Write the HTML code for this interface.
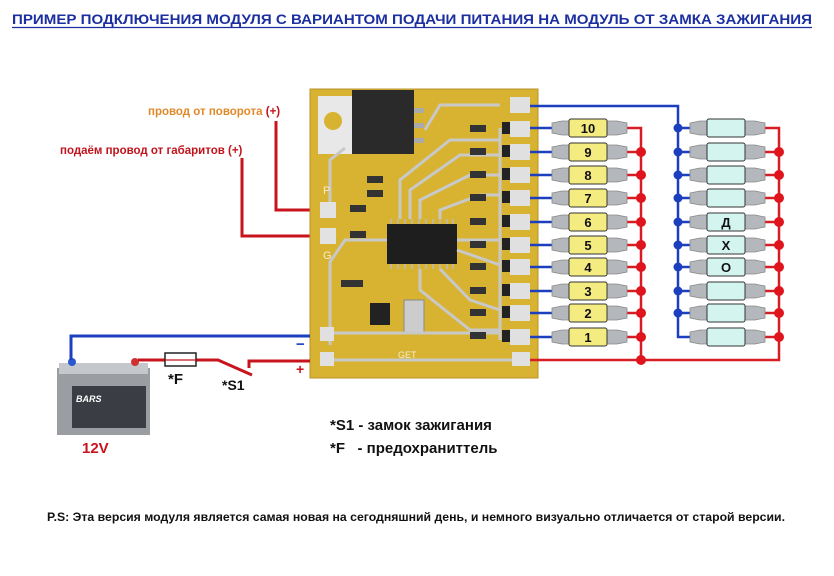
<!DOCTYPE html>
<html><head><meta charset="utf-8"><style>
body{margin:0;background:#fff}
svg{display:block;font-family:"Liberation Sans","DejaVu Sans",sans-serif}
</style></head><body>
<svg width="834" height="576" viewBox="0 0 834 576" xmlns="http://www.w3.org/2000/svg">
<rect width="834" height="576" fill="#fff"/>
<text x="12" y="24" font-size="13.5" font-weight="bold" fill="#1b2fa0" textLength="800" lengthAdjust="spacingAndGlyphs">ПРИМЕР ПОДКЛЮЧЕНИЯ МОДУЛЯ С ВАРИАНТОМ ПОДАЧИ ПИТАНИЯ НА МОДУЛЬ ОТ ЗАМКА ЗАЖИГАНИЯ</text>
<line x1="12" y1="27.5" x2="812" y2="27.5" stroke="#1b2fa0" stroke-width="1.2"/>

<text x="148" y="115" font-size="11.5" font-weight="bold" fill="#e0892a">провод от поворота <tspan fill="#c0141c">(+)</tspan></text>
<text x="60" y="154" font-size="11.5" font-weight="bold" fill="#c0141c">подаём провод от габаритов (+)</text>
<g fill="none" stroke="#c8141c" stroke-width="3">
<polyline points="276,121 276,210 325,210"/>
<polyline points="242,158 242,236 325,236"/>
</g>

<!-- PCB -->
<rect x="310" y="89" width="228" height="289" fill="#d8b332" stroke="#b8922a" stroke-width="1"/>
<rect x="318" y="96" width="44" height="58" fill="#e8e8e8"/>
<circle cx="333" cy="121" r="9" fill="#d8b332"/>
<rect x="352" y="90" width="62" height="64" fill="#2a2a2a"/>
<rect x="414" y="108" width="10" height="5" fill="#aaa"/><rect x="414" y="123" width="10" height="5" fill="#aaa"/><rect x="414" y="138" width="10" height="5" fill="#aaa"/>
<rect x="387" y="224" width="70" height="40" fill="#1e1e1e"/>
<g stroke="#bbb" stroke-width="1.5">
<path d="M391 219v5M398 219v5M405 219v5M412 219v5M419 219v5M426 219v5M433 219v5M440 219v5M447 219v5M453 219v5M391 264v5M398 264v5M405 264v5M412 264v5M419 264v5M426 264v5M433 264v5M440 264v5M447 264v5M453 264v5"/>
</g>
<rect x="404" y="300" width="20" height="32" fill="#ccc" stroke="#888"/>
<rect x="370" y="303" width="20" height="22" fill="#222"/>
<g fill="none" stroke="#c8c8c8" stroke-width="3">
<polyline points="330,210 330,160 345,148"/>
<polyline points="320,333 500,333"/><polyline points="320,360 530,360"/>
<polyline points="330,345 330,262 345,240 387,240"/>
<polyline points="500,105 440,105 425,130"/>
<polyline points="500,128 500,340"/>
<path d="M400 219 L400 180 L450 140 L500 140 M410 219 L410 190 L460 155 L500 155 M420 219 L420 200 L470 175 L500 175 M440 219 L440 210 L480 195 L500 195 M457 240 L500 240 M457 250 L500 265 M440 269 L470 300 L500 310 M420 269 L420 290 L470 330 L500 330"/>
</g>
<rect x="320" y="202" width="16" height="16" fill="#e2e2e2"/>
<rect x="320" y="228" width="16" height="16" fill="#e2e2e2"/>
<text x="323" y="194" font-size="11" fill="#f4ecd0">P</text>
<text x="323" y="259" font-size="11" fill="#f4ecd0">G</text>
<text x="398" y="358" font-size="9" fill="#f4ecd0">GET</text>
<g fill="#e0e0e0">
<rect x="510" y="97" width="20" height="16"/>
<rect x="510" y="121" width="20" height="16"/><rect x="510" y="144" width="20" height="16"/><rect x="510" y="167" width="20" height="16"/><rect x="510" y="190" width="20" height="16"/><rect x="510" y="214" width="20" height="16"/><rect x="510" y="237" width="20" height="16"/><rect x="510" y="259" width="20" height="16"/><rect x="510" y="283" width="20" height="16"/><rect x="510" y="305" width="20" height="16"/><rect x="510" y="329" width="20" height="16"/>
<rect x="320" y="327" width="14" height="14"/><rect x="320" y="352" width="14" height="14"/><rect x="512" y="352" width="18" height="14"/>
</g>
<g fill="#222">
<rect x="502" y="122" width="8" height="12"/><rect x="502" y="145" width="8" height="12"/><rect x="502" y="168" width="8" height="12"/><rect x="502" y="191" width="8" height="12"/><rect x="502" y="215" width="8" height="12"/><rect x="502" y="238" width="8" height="12"/><rect x="502" y="260" width="8" height="12"/><rect x="502" y="284" width="8" height="12"/><rect x="502" y="306" width="8" height="12"/><rect x="502" y="330" width="8" height="12"/>
</g>
<g fill="#333">
<rect x="470" y="125" width="16" height="7"/><rect x="470" y="148" width="16" height="7"/><rect x="470" y="171" width="16" height="7"/><rect x="470" y="194" width="16" height="7"/><rect x="470" y="218" width="16" height="7"/><rect x="470" y="241" width="16" height="7"/><rect x="470" y="263" width="16" height="7"/><rect x="470" y="287" width="16" height="7"/><rect x="470" y="309" width="16" height="7"/><rect x="470" y="332" width="16" height="7"/>
<rect x="367" y="176" width="16" height="7"/><rect x="367" y="190" width="16" height="7"/><rect x="350" y="205" width="16" height="7"/><rect x="350" y="231" width="16" height="7"/><rect x="341" y="280" width="22" height="7"/>
</g>

<!-- battery -->
<rect x="57" y="368" width="93" height="67" fill="#9a9ea2"/>
<rect x="59" y="363" width="89" height="11" fill="#c4c8cc"/>
<rect x="72" y="386" width="74" height="42" fill="#3a3e44"/>
<text x="76" y="402" font-size="9" font-style="italic" font-weight="bold" fill="#fff">BARS</text>
<ellipse cx="72" cy="362" rx="4" ry="4" fill="#2a58d0"/>
<ellipse cx="135" cy="362" rx="4" ry="4" fill="#d03030"/>
<text x="82" y="453" font-size="15" font-weight="bold" fill="#c8141c">12V</text>

<!-- battery wires -->
<polyline points="71,360 71,336 310,336" fill="none" stroke="#1c3fc0" stroke-width="3"/>
<polyline points="138,360 165,360" fill="none" stroke="#c8141c" stroke-width="3"/>
<polyline points="196,360 218,360 252,375" fill="none" stroke="#c8141c" stroke-width="3"/>
<polyline points="249,368 249,361 310,361" fill="none" stroke="#c8141c" stroke-width="3"/>
<rect x="165" y="353" width="31" height="13" fill="#fff" stroke="#222" stroke-width="1.5"/>
<line x1="165" y1="360" x2="196" y2="360" stroke="#c8141c" stroke-width="1.2"/>
<text x="296" y="349" font-size="15" font-weight="bold" fill="#1c3fc0">−</text>
<text x="296" y="374" font-size="14" font-weight="bold" fill="#c8141c">+</text>
<text x="168" y="384" font-size="15" font-weight="bold" fill="#111">*F</text>
<text x="222" y="390" font-size="14" font-weight="bold" fill="#111">*S1</text>

<!-- LEDs wiring -->
<g fill="none" stroke="#1c3fc0" stroke-width="2.5">
<polyline points="530,106 678,106 678,337 690,337"/>
<path d="M530 128H555M530 152H555M530 175H555M530 198H555M530 222H555M530 245H555M530 267H555M530 291H555M530 313H555M530 337H555"/>
<path d="M678 128H690M678 152H690M678 175H690M678 198H690M678 222H690M678 245H690M678 267H690M678 291H690M678 313H690"/>
</g>
<g fill="none" stroke="#d81c24" stroke-width="2.5">
<polyline points="627,128 641,128 641,360"/>
<polyline points="530,360 779,360 779,128 765,128"/>
<path d="M627 152H641M627 175H641M627 198H641M627 222H641M627 245H641M627 267H641M627 291H641M627 313H641M627 337H641"/>
<path d="M765 152H779M765 175H779M765 198H779M765 222H779M765 245H779M765 267H779M765 291H779M765 313H779M765 337H779"/>
</g>
<g fill="#e0141c">
<circle cx="641" cy="152" r="5"/><circle cx="641" cy="175" r="5"/><circle cx="641" cy="198" r="5"/><circle cx="641" cy="222" r="5"/><circle cx="641" cy="245" r="5"/><circle cx="641" cy="267" r="5"/><circle cx="641" cy="291" r="5"/><circle cx="641" cy="313" r="5"/><circle cx="641" cy="337" r="5"/><circle cx="641" cy="360" r="5"/>
<circle cx="779" cy="152" r="5"/><circle cx="779" cy="175" r="5"/><circle cx="779" cy="198" r="5"/><circle cx="779" cy="222" r="5"/><circle cx="779" cy="245" r="5"/><circle cx="779" cy="267" r="5"/><circle cx="779" cy="291" r="5"/><circle cx="779" cy="313" r="5"/><circle cx="779" cy="337" r="5"/>
</g>
<g fill="#1c3fc0">
<circle cx="678" cy="128" r="4.5"/><circle cx="678" cy="152" r="4.5"/><circle cx="678" cy="175" r="4.5"/><circle cx="678" cy="198" r="4.5"/><circle cx="678" cy="222" r="4.5"/><circle cx="678" cy="245" r="4.5"/><circle cx="678" cy="267" r="4.5"/><circle cx="678" cy="291" r="4.5"/><circle cx="678" cy="313" r="4.5"/>
</g>
<defs>
<g id="led">
<path d="M0 -5 L10 -7 H65 L75 -5 V5 L65 7 H10 L0 5Z" fill="#b4b8bc" stroke="#888" stroke-width="0.8"/>
</g>
</defs>
<g font-size="13" font-weight="bold" fill="#111" text-anchor="middle">
<g transform="translate(552,128)"><use href="#led"/><rect x="17" y="-9" width="38" height="18" rx="2" fill="#f4ec80" stroke="#333"/><text x="36" y="5">10</text></g>
<g transform="translate(552,152)"><use href="#led"/><rect x="17" y="-9" width="38" height="18" rx="2" fill="#f4ec80" stroke="#333"/><text x="36" y="5">9</text></g>
<g transform="translate(552,175)"><use href="#led"/><rect x="17" y="-9" width="38" height="18" rx="2" fill="#f4ec80" stroke="#333"/><text x="36" y="5">8</text></g>
<g transform="translate(552,198)"><use href="#led"/><rect x="17" y="-9" width="38" height="18" rx="2" fill="#f4ec80" stroke="#333"/><text x="36" y="5">7</text></g>
<g transform="translate(552,222)"><use href="#led"/><rect x="17" y="-9" width="38" height="18" rx="2" fill="#f4ec80" stroke="#333"/><text x="36" y="5">6</text></g>
<g transform="translate(552,245)"><use href="#led"/><rect x="17" y="-9" width="38" height="18" rx="2" fill="#f4ec80" stroke="#333"/><text x="36" y="5">5</text></g>
<g transform="translate(552,267)"><use href="#led"/><rect x="17" y="-9" width="38" height="18" rx="2" fill="#f4ec80" stroke="#333"/><text x="36" y="5">4</text></g>
<g transform="translate(552,291)"><use href="#led"/><rect x="17" y="-9" width="38" height="18" rx="2" fill="#f4ec80" stroke="#333"/><text x="36" y="5">3</text></g>
<g transform="translate(552,313)"><use href="#led"/><rect x="17" y="-9" width="38" height="18" rx="2" fill="#f4ec80" stroke="#333"/><text x="36" y="5">2</text></g>
<g transform="translate(552,337)"><use href="#led"/><rect x="17" y="-9" width="38" height="18" rx="2" fill="#f4ec80" stroke="#333"/><text x="36" y="5">1</text></g>

<g transform="translate(690,128)"><use href="#led"/><rect x="17" y="-9" width="38" height="18" rx="2" fill="#d4f4f0" stroke="#333"/></g>
<g transform="translate(690,152)"><use href="#led"/><rect x="17" y="-9" width="38" height="18" rx="2" fill="#d4f4f0" stroke="#333"/></g>
<g transform="translate(690,175)"><use href="#led"/><rect x="17" y="-9" width="38" height="18" rx="2" fill="#d4f4f0" stroke="#333"/></g>
<g transform="translate(690,198)"><use href="#led"/><rect x="17" y="-9" width="38" height="18" rx="2" fill="#d4f4f0" stroke="#333"/></g>
<g transform="translate(690,222)"><use href="#led"/><rect x="17" y="-9" width="38" height="18" rx="2" fill="#d4f4f0" stroke="#333"/><text x="36" y="5">Д</text></g>
<g transform="translate(690,245)"><use href="#led"/><rect x="17" y="-9" width="38" height="18" rx="2" fill="#d4f4f0" stroke="#333"/><text x="36" y="5">Х</text></g>
<g transform="translate(690,267)"><use href="#led"/><rect x="17" y="-9" width="38" height="18" rx="2" fill="#d4f4f0" stroke="#333"/><text x="36" y="5">О</text></g>
<g transform="translate(690,291)"><use href="#led"/><rect x="17" y="-9" width="38" height="18" rx="2" fill="#d4f4f0" stroke="#333"/></g>
<g transform="translate(690,313)"><use href="#led"/><rect x="17" y="-9" width="38" height="18" rx="2" fill="#d4f4f0" stroke="#333"/></g>
<g transform="translate(690,337)"><use href="#led"/><rect x="17" y="-9" width="38" height="18" rx="2" fill="#d4f4f0" stroke="#333"/></g>
</g>

<text x="330" y="430" font-size="15" font-weight="bold" fill="#111">*S1 - замок зажигания</text>
<text x="330" y="453" font-size="15" font-weight="bold" fill="#111" xml:space="preserve">*F   - предохраниттель</text>
<text x="47" y="521" font-size="11.5" font-weight="bold" fill="#111" textLength="738" lengthAdjust="spacingAndGlyphs">P.S: Эта версия модуля является самая новая на сегодняшний день, и немного визуально отличается от старой версии.</text>
</svg>
</body></html>
